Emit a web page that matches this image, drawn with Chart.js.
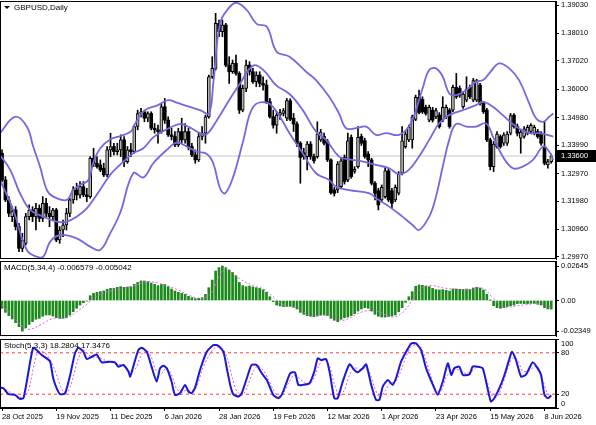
<!DOCTYPE html>
<html>
<head>
<meta charset="utf-8">
<script src="https://cdn.jsdelivr.net/npm/chart.js@4.4.1/dist/chart.umd.min.js"></script>
<style>
    body { margin: 0; background: #fff; width: 596px; height: 425px; overflow: hidden; position: relative; }
    canvas { position: absolute; left: 0; }
</style>
</head>
<body>
<canvas id="mainChart" width="596" height="260" style="top:0px"></canvas>
<canvas id="macdChart" width="596" height="77" style="top:260px"></canvas>
<canvas id="stochChart" width="596" height="88" style="top:337px"></canvas>
<script>
// ---- data ----
const symbolTitle = 'GBPUSD,Daily';
const macdTitle = 'MACD(5,34,4) -0.006579 -0.005042';
const stochTitle = 'Stoch(5,3,3) 18.2804 17.3476';

const dateTickIdx = [0, 16, 32, 48, 64, 80, 96, 112, 128, 144, 160];
const dateLabels = ['28 Oct 2025', '19 Nov 2025', '11 Dec 2025', '6 Jan 2026', '28 Jan 2026', '19 Feb 2026',
    '12 Mar 2026', '1 Apr 2026', '23 Apr 2026', '15 May 2026', '8 Jun 2026'];

const priceTicks = [1.39030, 1.38010, 1.37020, 1.36000, 1.34980, 1.33990, 1.32970, 1.31980, 1.30960, 1.29970];
const currentPrice = 1.33600;
const macdTicks = [0.02645, 0, -0.02349];
const macdTickLabels = ['0.02645', '0.00', '-0.02349'];
const stochTicks = [100, 80, 20, 0];
const stochLevels = [80, 20];

const openP = [1.3370,1.3274,1.3202,1.3142,1.3166,1.3106,1.3028,1.3046,1.3142,1.3166,1.3142,1.3172,1.3136,1.3190,1.3154,1.3142,1.3166,1.3058,1.3094,1.3112,
1.3154,1.3202,1.3238,1.3220,1.3250,1.3220,1.3214,1.3352,1.3334,1.3328,1.3316,1.3292,1.3382,1.3394,1.3376,1.3382,1.3418,1.3340,1.3382,1.3376,
1.3466,1.3513,1.3519,1.3496,1.3513,1.3460,1.3454,1.3448,1.3537,1.3489,1.3436,1.3430,1.3400,1.3448,1.3418,1.3448,1.3394,1.3364,1.3346,1.3430,
1.3442,1.3501,1.3645,1.3675,1.3837,1.3807,1.3831,1.3687,1.3663,1.3693,1.3657,1.3525,1.3603,1.3687,1.3663,1.3627,1.3651,1.3621,1.3615,1.3555,
1.3501,1.3471,1.3507,1.3513,1.3496,1.3559,1.3496,1.3475,1.3406,1.3372,1.3358,1.3403,1.3358,1.3358,1.3418,1.3430,1.3412,1.3346,1.3238,1.3238,
1.3250,1.3355,1.3274,1.3427,1.3305,1.3322,1.3430,1.3415,1.3367,1.3346,1.3262,1.3235,1.3202,1.3214,1.3307,1.3235,1.3202,1.3226,1.3298,1.3394,
1.3418,1.3418,1.3492,1.3571,1.3564,1.3535,1.3489,1.3525,1.3501,1.3507,1.3489,1.3501,1.3525,1.3525,1.3607,1.3603,1.3537,1.3561,1.3607,1.3561,
1.3561,1.3615,1.3549,1.3525,1.3418,1.3322,1.3394,1.3430,1.3406,1.3406,1.3442,1.3507,1.3466,1.3424,1.3430,1.3442,1.3448,1.3442,1.3448,1.3442,
1.3394,1.3328,1.3340];
const highP = [1.3382,1.3286,1.3214,1.3178,1.3178,1.3118,1.3082,1.3154,1.3184,1.3178,1.3190,1.3184,1.3214,1.3208,1.3178,1.3172,1.3172,1.3106,1.3130,1.3172,
1.3208,1.3250,1.3262,1.3268,1.3268,1.3244,1.3358,1.3388,1.3358,1.3346,1.3334,1.3394,1.3442,1.3406,1.3406,1.3436,1.3430,1.3394,1.3406,1.3471,
1.3525,1.3531,1.3525,1.3519,1.3519,1.3477,1.3471,1.3549,1.3567,1.3501,1.3460,1.3448,1.3460,1.3496,1.3477,1.3460,1.3406,1.3382,1.3442,1.3466,
1.3507,1.3651,1.3717,1.3873,1.3849,1.3849,1.3837,1.3717,1.3705,1.3723,1.3663,1.3615,1.3705,1.3699,1.3675,1.3663,1.3663,1.3645,1.3633,1.3567,
1.3525,1.3519,1.3528,1.3531,1.3567,1.3566,1.3513,1.3483,1.3412,1.3388,1.3412,1.3412,1.3367,1.3483,1.3456,1.3442,1.3420,1.3350,1.3247,1.3340,
1.3352,1.3364,1.3442,1.3436,1.3322,1.3466,1.3439,1.3424,1.3376,1.3352,1.3268,1.3244,1.3256,1.3322,1.3316,1.3244,1.3256,1.3304,1.3466,1.3448,
1.3471,1.3507,1.3579,1.3597,1.3573,1.3543,1.3543,1.3535,1.3531,1.3516,1.3573,1.3543,1.3531,1.3615,1.3657,1.3612,1.3591,1.3645,1.3615,1.3639,
1.3636,1.3621,1.3555,1.3531,1.3424,1.3412,1.3448,1.3436,1.3444,1.3448,1.3513,1.3513,1.3475,1.3456,1.3466,1.3471,1.3477,1.3471,1.3456,1.3448,
1.3483,1.3348,1.3367];
const lowP = [1.3268,1.3196,1.3142,1.3124,1.3094,1.3016,1.3016,1.3040,1.3130,1.3124,1.3094,1.3124,1.3124,1.3142,1.3106,1.3130,1.3052,1.3046,1.3070,1.3094,
1.3142,1.3190,1.3202,1.3208,1.3214,1.3196,1.3208,1.3322,1.3316,1.3304,1.3286,1.3286,1.3358,1.3364,1.3364,1.3358,1.3322,1.3334,1.3358,1.3370,
1.3454,1.3501,1.3483,1.3483,1.3454,1.3442,1.3406,1.3442,1.3477,1.3430,1.3418,1.3394,1.3394,1.3406,1.3406,1.3382,1.3358,1.3334,1.3340,1.3418,
1.3406,1.3496,1.3639,1.3669,1.3789,1.3789,1.3681,1.3621,1.3657,1.3651,1.3513,1.3519,1.3591,1.3651,1.3621,1.3609,1.3609,1.3597,1.3549,1.3496,
1.3460,1.3442,1.3492,1.3504,1.3487,1.3487,1.3448,1.3394,1.3262,1.3348,1.3310,1.3348,1.3334,1.3352,1.3412,1.3400,1.3340,1.3223,1.3216,1.3228,
1.3244,1.3259,1.3268,1.3280,1.3298,1.3316,1.3398,1.3352,1.3322,1.3256,1.3202,1.3166,1.3196,1.3208,1.3196,1.3172,1.3196,1.3220,1.3292,1.3388,
1.3412,1.3388,1.3487,1.3511,1.3513,1.3507,1.3483,1.3482,1.3494,1.3460,1.3483,1.3494,1.3460,1.3519,1.3567,1.3571,1.3531,1.3555,1.3566,1.3555,
1.3555,1.3543,1.3513,1.3412,1.3310,1.3304,1.3388,1.3388,1.3398,1.3398,1.3436,1.3460,1.3432,1.3370,1.3424,1.3436,1.3442,1.3436,1.3424,1.3398,
1.3328,1.3316,1.3334];
const closeP = [1.3274,1.3202,1.3154,1.3160,1.3106,1.3028,1.3058,1.3142,1.3166,1.3142,1.3172,1.3136,1.3190,1.3154,1.3142,1.3166,1.3058,1.3094,1.3112,1.3154,
1.3202,1.3238,1.3220,1.3250,1.3220,1.3214,1.3352,1.3334,1.3322,1.3310,1.3292,1.3382,1.3394,1.3376,1.3382,1.3418,1.3340,1.3382,1.3376,1.3466,
1.3513,1.3519,1.3496,1.3513,1.3460,1.3454,1.3448,1.3537,1.3489,1.3436,1.3430,1.3400,1.3448,1.3418,1.3448,1.3394,1.3364,1.3346,1.3430,1.3442,
1.3501,1.3645,1.3675,1.3837,1.3807,1.3831,1.3687,1.3663,1.3693,1.3657,1.3525,1.3603,1.3687,1.3663,1.3627,1.3651,1.3621,1.3615,1.3555,1.3501,
1.3471,1.3507,1.3516,1.3523,1.3559,1.3492,1.3475,1.3406,1.3355,1.3358,1.3403,1.3358,1.3343,1.3439,1.3446,1.3406,1.3346,1.3228,1.3226,1.3331,
1.3343,1.3268,1.3415,1.3286,1.3312,1.3427,1.3406,1.3358,1.3346,1.3262,1.3226,1.3184,1.3247,1.3307,1.3202,1.3190,1.3247,1.3295,1.3415,1.3439,
1.3463,1.3501,1.3571,1.3516,1.3519,1.3513,1.3535,1.3489,1.3523,1.3466,1.3535,1.3535,1.3466,1.3607,1.3573,1.3579,1.3583,1.3600,1.3573,1.3631,
1.3631,1.3549,1.3519,1.3418,1.3322,1.3403,1.3439,1.3394,1.3436,1.3439,1.3505,1.3466,1.3442,1.3446,1.3458,1.3463,1.3470,1.3463,1.3430,1.3406,
1.3334,1.3340,1.3360];

// Bollinger bands, [bar, price] as traced
const bbUpper = [[-0.6,1.3442],[3.8,1.3501],[7.3,1.3466],[9.2,1.3394],[11.2,1.3322],[13.2,1.3238],[15.1,1.3214],[19.1,1.3202],[21,1.3238],[23,1.3256],
[25.5,1.3274],[27,1.3340],[29,1.3388],[32,1.3420],[35,1.3432],[38,1.3448],[39,1.3471],[42,1.3523],[46,1.3543],[49,1.3561],[51.5,1.3552],[58.4,1.3525],
[61,1.3513],[62.3,1.3621],[64.3,1.3837],[66.8,1.3891],[69.2,1.3911],[72.2,1.3885],[75.1,1.3835],[78.1,1.3825],[81,1.3735],[84.8,1.3717],[89.7,1.3663],
[92.6,1.3633],[96.5,1.3573],[99.4,1.3513],[101.5,1.3460],[104.4,1.3460],[107.4,1.3466],[110.3,1.3436],[113.3,1.3442],[117.1,1.3436],[120,1.3466],
[122.1,1.3525],[124.2,1.3609],[126,1.3669],[128,1.3675],[130,1.3645],[131.9,1.3585],[133.9,1.3579],[136.9,1.3597],[139.8,1.3627],[141.9,1.3633],
[143.7,1.3657],[146.6,1.3693],[149.6,1.3675],[152.5,1.3633],[155.5,1.3549],[157.5,1.3496],[159.6,1.3483],[161.4,1.3501],[162.6,1.3513]];
const bbMiddle = [[-0.6,1.3364],[2.4,1.3310],[5.3,1.3226],[8.3,1.3166],[12.2,1.3142],[16.1,1.3124],[19.1,1.3124],[22,1.3142],[25,1.3172],[27.9,1.3220],
[31.9,1.3292],[34.8,1.3328],[38.7,1.3370],[41.7,1.3388],[44.6,1.3427],[48.6,1.3456],[52.5,1.3475],[55.5,1.3462],[58.4,1.3442],[60.4,1.3439],[63.3,1.3487],
[67.3,1.3567],[70.2,1.3621],[74.1,1.3685],[77.1,1.3669],[80.8,1.3615],[84.8,1.3583],[88.7,1.3525],[92.6,1.3448],[95.6,1.3418],[99.4,1.3358],[102.4,1.3348],
[106.5,1.3340],[110.3,1.3328],[114.2,1.3316],[117.1,1.3295],[120,1.3310],[123,1.3358],[126,1.3418],[128.9,1.3477],[131.9,1.3507],[136,1.3525],[139.8,1.3543],
[141.9,1.3555],[144.8,1.3537],[147.7,1.3507],[151.6,1.3466],[155.5,1.3442],[158.4,1.3442],[162.6,1.3430]];
const bbLower = [[-0.6,1.3274],[3.3,1.3166],[7.3,1.3022],[10.2,1.2998],[12.2,1.2998],[14.2,1.3052],[17.1,1.3076],[22,1.3064],[26,1.3034],[28.9,1.3022],
[31.9,1.3082],[34.8,1.3154],[38.7,1.3298],[41.7,1.3283],[44.6,1.3334],[48.6,1.3382],[51.5,1.3408],[54.5,1.3394],[57.4,1.3376],[60.4,1.3367],[62.3,1.3334],
[64.3,1.3244],[65.8,1.3226],[68.2,1.3286],[71.2,1.3418],[74.1,1.3537],[78.1,1.3552],[81,1.3519],[84.8,1.3442],[88.7,1.3370],[92.6,1.3298],[96.5,1.3274],
[98.5,1.3250],[102.4,1.3237],[108.4,1.3226],[110.3,1.3208],[114.2,1.3178],[118.1,1.3142],[121.1,1.3112],[123,1.3094],[126,1.3142],[128,1.3214],[130,1.3322],
[131.9,1.3418],[133.9,1.3475],[136.9,1.3466],[139.8,1.3466],[142.8,1.3477],[144.8,1.3430],[147.7,1.3358],[150.7,1.3316],[153.6,1.3322],[156.6,1.3346],
[159.6,1.3394],[161.4,1.3376],[162.6,1.3346]];

const macdHist = [-0.0060,-0.0091,-0.0116,-0.0142,-0.0170,-0.0201,-0.02349,-0.0208,-0.0183,-0.0162,-0.0144,-0.0137,-0.0121,-0.0111,-0.0111,-0.0119,-0.0132,-0.0137,-0.0137,-0.0132,
-0.0111,-0.0086,-0.0060,-0.0035,-0.0017,-0.0004,0.0037,0.0055,0.0063,0.0068,0.0073,0.0086,0.0093,0.0093,0.0101,0.0106,0.0101,0.0104,0.0106,0.0124,
0.0139,0.0150,0.0150,0.0144,0.0134,0.0124,0.0114,0.0124,0.0124,0.0106,0.0088,0.0073,0.0063,0.0055,0.0047,0.0032,0.0022,0.0014,0.0017,0.0022,
0.0047,0.0098,0.0157,0.0226,0.0252,0.02645,0.0252,0.0234,0.0216,0.0190,0.0139,0.0114,0.0106,0.0111,0.0104,0.0098,0.0093,0.0083,0.0063,0.0029,
-0.0009,-0.0035,-0.0042,-0.0047,-0.0047,-0.0045,-0.0052,-0.0065,-0.0091,-0.0106,-0.0116,-0.0121,-0.0124,-0.0119,-0.0111,-0.0111,-0.0116,-0.0137,-0.0152,-0.0162,
-0.0144,-0.0132,-0.0127,-0.0116,-0.0101,-0.0081,-0.0065,-0.0055,-0.0060,-0.0081,-0.0106,-0.0121,-0.0127,-0.0127,-0.0124,-0.0119,-0.0111,-0.0086,-0.0055,-0.0014,
0.0029,0.0068,0.0109,0.0119,0.0116,0.0111,0.0106,0.0093,0.0083,0.0081,0.0083,0.0078,0.0073,0.0088,0.0088,0.0086,0.0086,0.0088,0.0086,0.0096,
0.0101,0.0096,0.0081,0.0047,0.0001,-0.0040,-0.0055,-0.0060,-0.0055,-0.0047,-0.0040,-0.0035,-0.0024,-0.0022,-0.0024,-0.0024,-0.0022,-0.0024,-0.0029,-0.0035,
-0.0055,-0.0065,-0.006579];
const macdSignal = [[0,-0.0035],[3.3,-0.0124],[7.3,-0.0219],[11.2,-0.0188],[15.1,-0.0137],[19.1,-0.0132],[22,-0.0086],[25,-0.0029],[26.9,0.0017],[31.9,0.0073],
[38.7,0.0111],[42.7,0.0144],[46.6,0.0129],[51.5,0.0086],[55.5,0.0037],[58.4,0.0017],[61.4,0.0047],[64.3,0.0196],[66.3,0.0242],[70.2,0.0165],[74.1,0.0114],
[77.1,0.0088],[80,0.0029],[83,-0.0035],[86.9,-0.0055],[90.7,-0.0111],[96.6,-0.0116],[100.5,-0.0152],[106.4,-0.0086],[110.3,-0.0081],[115.2,-0.0127],
[118.2,-0.0091],[120.7,-0.0009],[123.1,0.0081],[126.1,0.0114],[131,0.0093],[137.9,0.0083],[141.8,0.0093],[144.7,0.0022],[147.7,-0.0047],[153.6,-0.0035],
[158.5,-0.0024],[162,-0.005042]];

const stochMain = [[-0.6,29.6],[0.4,28.7],[1.9,20.0],[3.8,19.0],[5.3,13.3],[6.3,14.2],[7.3,38.3],[8.3,67.1],[9.2,87.3],[10.2,83.9],[11.7,76.7],[13.2,71.9],
[14.2,67.1],[15.1,43.1],[16.1,28.7],[17.1,20.0],[18.6,21.4],[20.1,47.9],[21.5,79.1],[22.5,87.3],[24,81.5],[25,71.0],[26.5,74.3],[27.9,77.7],[29.4,66.2],
[31.9,67.1],[33.3,66.2],[34.3,59.9],[35.8,62.3],[37.3,52.7],[37.8,45.5],[38.7,59.9],[40.2,83.9],[41.2,87.3],[42.7,81.5],[44.1,59.9],[45.6,38.3],[46.6,57.5],
[47.6,61.3],[48.6,57.5],[50,38.3],[51,19.0],[52.5,21.4],[54,33.5],[55,23.8],[55.9,21.4],[56.9,28.7],[58.4,55.1],[60.4,81.5],[62.3,91.2],[63.8,90.2],
[65.3,81.5],[66.3,57.5],[67.3,33.5],[68.2,20.0],[69.7,16.6],[70.7,21.4],[72.2,43.1],[73.6,62.3],[75.1,62.3],[76.6,50.3],[78.1,40.7],[80,19.0],[81.5,14.2],
[82.5,19.0],[84,38.3],[85,50.3],[86.4,51.7],[87.4,33.5],[88.7,33.5],[90.7,35.9],[92.1,52.7],[93.1,71.9],[94.1,69.5],[95.6,71.0],[96.6,52.7],[98,14.2],
[99,14.2],[100.5,38.3],[102.5,63.3],[103.9,55.1],[104.9,51.7],[106.4,57.5],[107.4,63.3],[108.9,33.5],[110.3,11.8],[111.3,11.8],[112.3,31.1],[113.8,40.7],
[115.2,33.5],[116.2,43.1],[117.7,67.1],[119.2,81.5],[120.7,93.6],[122.1,93.6],[123.6,83.9],[125.1,57.5],[127.1,33.5],[128.5,19.0],[130,38.3],[131.5,64.7],
[132.5,47.9],[133.4,57.5],[134.9,59.9],[135.9,47.9],[137.9,48.8],[138.8,59.9],[140.3,59.9],[141.8,57.5],[143.2,28.7],[144.2,9.4],[145.2,14.2],[146.7,28.7],
[148.2,47.9],[149.7,71.9],[150.4,81.5],[151.6,69.5],[153.1,45.5],[154.6,48.8],[156.5,66.2],[158,57.5],[159,47.9],[160,19.0],[161,14.2],[162,18.28]];
const stochSignal = [[0,30],[2,24],[4,19],[6,15],[7.5,22],[8.5,40],[9.5,64],[10.5,80],[12,82],[13.5,75],[15,62],[16.5,42],[18,24],[19.5,24],[21,45],
[22.5,72],[24,84],[25.5,77],[27,73],[28.5,74],[30,70],[32,67],[34,64],[36,61],[38,52],[39.5,58],[41,76],[42.5,84],[44,74],[45.5,54],[47,50],[48.5,58],
[50,48],[51.5,28],[53,23],[54.5,26],[56,25],[57.5,32],[59,55],[61,76],[63,88],[65,86],[66.5,72],[68,42],[69.5,22],[71,19],[72.5,33],[74,52],[75.5,61],
[77,55],[78.5,42],[80,27],[81.5,17],[83,22],[84.5,36],[86,47],[87.5,44],[89,37],[90.5,34],[92,43],[93.5,62],[95,70],[96.5,62],[98,35],[99.5,18],[101,26],
[102.5,48],[104,58],[105.5,56],[107,58],[108.5,50],[110,28],[111.5,15],[113,25],[114.5,36],[116,38],[117.5,52],[119,72],[120.5,88],[122,92],[123.5,88],
[125,70],[126.5,46],[128,26],[129.5,25],[131,45],[132.5,53],[134,56],[135.5,53],[137,50],[138.5,53],[140,59],[141.5,58],[143,40],[144.5,18],[146,16],
[147.5,32],[149,55],[150.5,72],[152,70],[153.5,54],[155,53],[156.5,58],[158,60],[159.5,40],[161,20],[162,17.35]];

// ---- look ----
const X_MIN = -0.6, X_MAX = 163.4;
const AXIS_W = 40;
const bandColor = '#7468e0';
const bullFill = '#b4b4b4';
const bearFill = '#000000';
const histColor = '#1b8a1b';
const font = 'Liberation Sans';

Chart.defaults.font.family = font;
Chart.defaults.font.size = 7.5;
Chart.defaults.color = '#000';
Chart.defaults.animation = false;

const pairs = arr => arr.map(p => ({ x: p[0], y: p[1] }));
const flat = v => [{ x: X_MIN, y: v }, { x: X_MAX, y: v }];
const bars = closeP.map((c, i) => i);
const isBull = i => closeP[i] >= openP[i];

// keep chart.js from shrinking the plot to make room for edge labels
const noPad = s => { s.paddingTop = 0; s.paddingBottom = 0; s.paddingLeft = 0; s.paddingRight = 0; };

const xHidden = () => ({
    type: 'linear', min: X_MIN, max: X_MAX, offset: false, display: false
});

const rightAxis = (min, max, values, fmt, hideLabels) => ({
    position: 'right', min: min, max: max,
    afterFit: s => { s.width = AXIS_W; noPad(s); },
    afterBuildTicks: s => { s.ticks = values.map(v => ({ value: v })); },
    ticks: { callback: fmt, padding: 2, autoSkip: false, display: !hideLabels },
    grid: { drawOnChartArea: false, tickLength: 3, color: '#000' },
    border: { color: '#000' }
});

// frame + title text drawn on top of each panel
const panelDecor = (title, marker) => ({
    id: 'decor',
    afterDraw(chart) {
        const { ctx, chartArea: a } = chart;
        ctx.save();
        ctx.strokeStyle = '#000';
        ctx.lineWidth = 1;
        ctx.strokeRect(a.left + 0.5, a.top + 0.5, a.right - a.left - 1, a.bottom - a.top - 1);
        ctx.fillStyle = '#000';
        ctx.font = '8px ' + font;
        ctx.textBaseline = 'middle';
        let tx = 4;
        if (marker) {
            ctx.beginPath();
            ctx.moveTo(4, a.top + 5); ctx.lineTo(10, a.top + 5); ctx.lineTo(7, a.top + 8);
            ctx.closePath(); ctx.fill();
            tx = 14;
        }
        ctx.fillText(title, tx, a.top + 7);
        ctx.restore();
    }
});

// ---- main price panel ----
const priceMax = 1.3903 + 4 / 2781;
const priceMin = 1.3903 - 254 / 2781;

const priceLabel = {
    id: 'priceLabel',
    afterDraw(chart) {
        const { ctx, scales } = chart;
        const y = Math.round(scales.y.getPixelForValue(currentPrice));
        ctx.save();
        ctx.fillStyle = '#000';
        ctx.fillRect(557, y - 6, 39, 12);
        ctx.fillStyle = '#fff';
        ctx.font = '7.5px ' + font;
        ctx.textBaseline = 'middle';
        ctx.fillText(currentPrice.toFixed(5), 561, y);
        ctx.restore();
    }
};

new Chart(document.getElementById('mainChart'), {
    data: {
        datasets: [
            { type: 'line', data: flat(currentPrice), borderColor: '#c8c8c8', borderWidth: 1, pointRadius: 0, order: 10 },
            {
                type: 'bar', data: bars.map(i => ({ x: i, y: [lowP[i], highP[i]] })),
                backgroundColor: '#000', barThickness: 1, grouped: false, order: 5
            },
            {
                type: 'bar', data: bars.map(i => ({ x: i, y: [openP[i], closeP[i]] })),
                backgroundColor: ctx => isBull(ctx.dataIndex) ? bullFill : bearFill,
                borderColor: '#000',
                borderWidth: ctx => isBull(ctx.dataIndex) ? 1 : 0,
                borderSkipped: false,
                barThickness: 3, minBarLength: 1, grouped: false, order: 4
            },
            { type: 'line', data: pairs(bbUpper), borderColor: bandColor, borderWidth: 1.8, pointRadius: 0, tension: 0.4, order: 1 },
            { type: 'line', data: pairs(bbMiddle), borderColor: bandColor, borderWidth: 1.8, pointRadius: 0, tension: 0.4, order: 1 },
            { type: 'line', data: pairs(bbLower), borderColor: bandColor, borderWidth: 1.8, pointRadius: 0, tension: 0.4, order: 1 }
        ]
    },
    options: {
        responsive: false, devicePixelRatio: 1,
        layout: { padding: { top: 1, bottom: 1, left: 0, right: 0 } },
        plugins: { legend: { display: false }, tooltip: { enabled: false } },
        scales: {
            x: xHidden(),
            y: rightAxis(priceMin, priceMax, priceTicks, v => v.toFixed(5))
        }
    },
    plugins: [panelDecor(symbolTitle, true), priceLabel]
});

// ---- MACD panel ----
const macdMax = 39.5 / 1304;
const macdMin = -35.5 / 1304;

new Chart(document.getElementById('macdChart'), {
    data: {
        datasets: [
            {
                type: 'bar', data: bars.map(i => ({ x: i, y: macdHist[i] })),
                backgroundColor: histColor, barThickness: 2, grouped: false, order: 2
            },
            {
                type: 'line', data: pairs(macdSignal), borderColor: '#e060e0', borderWidth: 1,
                borderDash: [2, 2], pointRadius: 0, tension: 0.4, order: 1
            }
        ]
    },
    options: {
        responsive: false, devicePixelRatio: 1,
        layout: { padding: { top: 1, bottom: 1, left: 0, right: 0 } },
        plugins: { legend: { display: false }, tooltip: { enabled: false } },
        scales: {
            x: xHidden(),
            y: rightAxis(macdMin, macdMax, macdTicks, (v, i) => macdTickLabels[i])
        }
    },
    plugins: [panelDecor(macdTitle, false)]
});

// ---- Stochastic panel ----
const stochLabels = {
    id: 'stochLabels',
    afterDraw(chart) {
        const { ctx, scales, chartArea: a } = chart;
        ctx.save();
        ctx.fillStyle = '#000';
        ctx.font = '7.5px ' + font;
        ctx.textBaseline = 'middle';
        stochTicks.forEach(v => {
            let y = scales.y.getPixelForValue(v);
            y = Math.min(Math.max(y, a.top + 4.5), a.bottom - 4.5);
            ctx.fillText(String(v), a.right + 5, y);
        });
        ctx.restore();
    }
};

new Chart(document.getElementById('stochChart'), {
    data: {
        datasets: [
            ...stochLevels.map(v => ({
                type: 'line', data: flat(v), borderColor: '#f04040', borderWidth: 1,
                borderDash: [3, 3], pointRadius: 0, order: 5
            })),
            {
                type: 'line', data: pairs(stochSignal), borderColor: '#e050e0', borderWidth: 1,
                borderDash: [2, 2], pointRadius: 0, tension: 0.3, order: 2
            },
            {
                type: 'line', data: pairs(stochMain), borderColor: '#1818d8', borderWidth: 2,
                pointRadius: 0, tension: 0.2, order: 1
            }
        ]
    },
    options: {
        responsive: false, devicePixelRatio: 1,
        layout: { padding: { top: 2, bottom: 0, left: 0, right: 0 } },
        plugins: { legend: { display: false }, tooltip: { enabled: false } },
        scales: {
            x: {
                type: 'linear', min: X_MIN, max: X_MAX, offset: false,
                afterFit: s => { s.height = 17; noPad(s); },
                afterBuildTicks: s => { s.ticks = dateTickIdx.map(v => ({ value: v })); },
                ticks: {
                    callback: v => dateLabels[dateTickIdx.indexOf(v)],
                    align: 'start', padding: 1, maxRotation: 0, autoSkip: false
                },
                grid: { drawOnChartArea: false, tickLength: 3, color: '#000' },
                border: { color: '#000' }
            },
            y: rightAxis(0, 100, stochTicks, v => v, true)
        }
    },
    plugins: [panelDecor(stochTitle, false), stochLabels]
});
</script>
</body>
</html>
